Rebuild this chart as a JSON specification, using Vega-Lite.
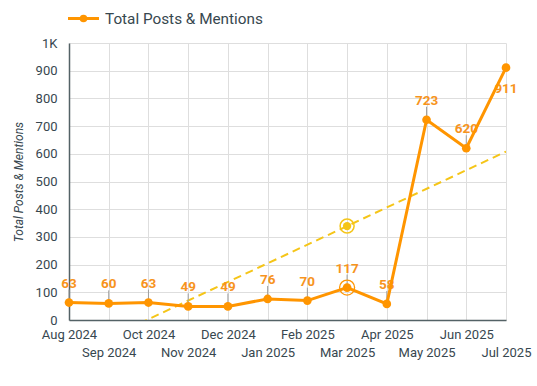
{
  "$schema": "https://vega.github.io/schema/vega-lite/v6.json",
  "width": 437,
  "height": 277,
  "autosize": {"type": "none"},
  "padding": {"left": 69, "top": 43, "right": 31, "bottom": 66},
  "background": "white",
  "config": {
    "font": "Roboto",
    "view": {"stroke": null},
    "axis": {"labelFont": "Roboto", "titleFont": "Roboto"},
    "legend": {"padding": 0}
  },
  "datasets": {
    "main": [
      {"month": "Aug 2024", "value": 63},
      {"month": "Sep 2024", "value": 60},
      {"month": "Oct 2024", "value": 63},
      {"month": "Nov 2024", "value": 49},
      {"month": "Dec 2024", "value": 49},
      {"month": "Jan 2025", "value": 76},
      {"month": "Feb 2025", "value": 70},
      {"month": "Mar 2025", "value": 117},
      {"month": "Apr 2025", "value": 58},
      {"month": "May 2025", "value": 723},
      {"month": "Jun 2025", "value": 620},
      {"month": "Jul 2025", "value": 911}
    ],
    "trend": [
      {"month": "Aug 2024", "value": -131.6},
      {"month": "Jul 2025", "value": 608}
    ],
    "trendHi": [
      {"month": "Mar 2025", "value": 339}
    ]
  },
  "encoding": {
    "x": {
      "field": "month",
      "type": "ordinal",
      "sort": null,
      "scale": {
        "type": "point",
        "padding": 0,
        "domain": ["Aug 2024","Sep 2024","Oct 2024","Nov 2024","Dec 2024","Jan 2025","Feb 2025","Mar 2025","Apr 2025","May 2025","Jun 2025","Jul 2025"]
      },
      "axis": {
        "title": null,
        "labelAngle": 0,
        "labelFontSize": 13,
        "labelColor": "#37474f",
        "labelOverlap": false,
        "labelBound": false,
        "labelFlush": false,
        "tickSize": 0,
        "labelPadding": {
          "condition": {"test": "indexof(['Sep 2024','Nov 2024','Jan 2025','Mar 2025','May 2025','Jul 2025'], datum.value) >= 0", "value": 26},
          "value": 8
        },
        "domainColor": "#546266",
        "domainWidth": 1.5,
        "gridColor": "#dedede",
        "gridWidth": 1,
        "grid": true
      }
    },
    "y": {
      "field": "value",
      "type": "quantitative",
      "scale": {"domain": [0, 1000], "nice": false},
      "axis": {
        "title": "Total Posts & Mentions",
        "titleFontStyle": "italic",
        "titleFontWeight": "normal",
        "titleFontSize": 12,
        "titleColor": "#37474f",
        "titlePadding": 10,
        "values": [0,100,200,300,400,500,600,700,800,900,1000],
        "labelOverlap": false,
        "labelExpr": "datum.value >= 1000 ? '1K' : '' + datum.value",
        "labelFontSize": 13,
        "labelColor": "#37474f",
        "labelPadding": 12,
        "tickSize": 0,
        "domainColor": "#546266",
        "domainWidth": 1.5,
        "gridColor": "#dedede",
        "gridWidth": 1
      }
    }
  },
  "layer": [
    {
      "data": {"name": "trend"},
      "mark": {"type": "line", "color": "#f5c518", "strokeWidth": 2, "strokeDash": [8, 5], "clip": true}
    },
    {
      "data": {"name": "trendHi"},
      "mark": {"type": "point", "filled": false, "color": "#f5c518", "size": 196, "strokeWidth": 1.5, "opacity": 1}
    },
    {
      "data": {"name": "trendHi"},
      "mark": {"type": "point", "filled": true, "color": "#f5c518", "size": 70, "opacity": 1}
    },
    {
      "data": {"name": "main"},
      "transform": [{"filter": "datum.month != 'Jul 2025'"}],
      "mark": {"type": "rule", "color": "#9e9e9e", "strokeWidth": 1, "yOffset": -3, "y2Offset": -13},
      "encoding": {
        "y2": {"field": "value"}
      }
    },
    {
      "data": {"name": "main"},
      "transform": [{"filter": "datum.month != 'Jul 2025'"}],
      "mark": {"type": "text", "color": "#f7941d", "fontSize": 13.5, "fontWeight": "bold", "dy": -19, "baseline": "middle"},
      "encoding": {
        "text": {"field": "value", "type": "quantitative"}
      }
    },
    {
      "data": {"name": "main"},
      "transform": [{"filter": "datum.month == 'Jul 2025'"}],
      "mark": {"type": "text", "color": "#f7941d", "fontSize": 13.5, "fontWeight": "bold", "dy": 21, "baseline": "middle"},
      "encoding": {
        "text": {"field": "value", "type": "quantitative"}
      }
    },
    {
      "data": {"name": "main"},
      "mark": {"type": "line", "strokeWidth": 3, "point": {"filled": true, "size": 75, "color": "#ff9500", "opacity": 1}},
      "encoding": {
        "color": {
          "datum": "Total Posts & Mentions",
          "scale": {"range": ["#ff9500"]},
          "legend": {
            "title": null,
            "orient": "none",
            "legendX": 5,
            "legendY": -34,
            "padding": 0,
            "symbolType": "M-2,0H2M-0.3,0A0.3,0.3,0,1,1,0.3,0A0.3,0.3,0,1,1,-0.3,0Z",
            "symbolSize": 240,
            "symbolStrokeWidth": 3,
            "symbolFillColor": "#ff9500",
            "symbolStrokeColor": "#ff9500",
            "labelFontSize": 15.3,
            "labelColor": "#37474f",
            "labelOffset": 12,
            "labelFont": "Roboto"
          }
        }
      }
    },
    {
      "data": {"name": "main"},
      "transform": [{"filter": "datum.month == 'Mar 2025'"}],
      "mark": {"type": "point", "filled": false, "color": "#ff9500", "size": 225, "strokeWidth": 1.3, "opacity": 1}
    }
  ]
}
